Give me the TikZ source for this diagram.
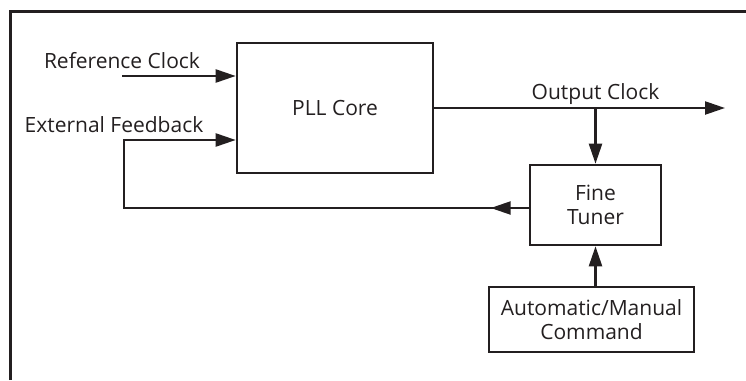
\documentclass[tikz,border=0pt]{standalone}
\usepackage{fontspec}
\setmainfont{Open Sans}
\usetikzlibrary{arrows.meta}
\definecolor{ink}{RGB}{35,31,32}

\begin{document}
\begin{tikzpicture}[x=1pt,y=-1pt,>={Triangle[length=20pt,width=13pt]},line width=2.3pt,
  draw=ink,text=ink,font=\fontsize{21}{24.5}\selectfont,
  blk/.style={draw=ink,line width=2.6pt,align=center,inner sep=0pt}]
\useasboundingbox (0,0) rectangle (746,380);
% frame
\draw[line width=2.8pt] (10.5,380) -- (10.5,11.5) -- (746,11.5);
% blocks
\node[blk,minimum width=196pt,minimum height=130pt] (pll) at (335,108) {PLL Core};
\node[blk,minimum width=131pt,minimum height=80pt] (ft) at (595.5,205) {Fine\\Tuner};
\node[blk,minimum width=205pt,minimum height=65pt] (cmd) at (591.5,319.5) {Automatic/Manual\\Command};
% labels
\node[anchor=base] (refl) at (122,68) {Reference Clock};
\node[anchor=base] (fbl) at (114,132) {External Feedback};
\node[anchor=base] (outl) at (595.5,99) {Output Clock};
% signals
\coordinate (refin) at (122,76);
\coordinate (out) at (725,108);
\coordinate (tap) at (ft.north |- pll.east);
\draw[->] (refin) -- ([yshift=32pt]pll.west);
\draw[->] (pll.east) -- (out);
\draw[->] (tap) -- (ft.north);
\draw[->] (ft.south |- cmd.north) -- (ft.south);
\draw[->] ([yshift=-3pt]ft.west) -- ++(-38,0);
\draw[->] ([yshift=-3pt]ft.west) -| ([xshift=-112pt,yshift=-32pt]pll.west) -- ([yshift=-32pt]pll.west);
\end{tikzpicture}
\end{document}
